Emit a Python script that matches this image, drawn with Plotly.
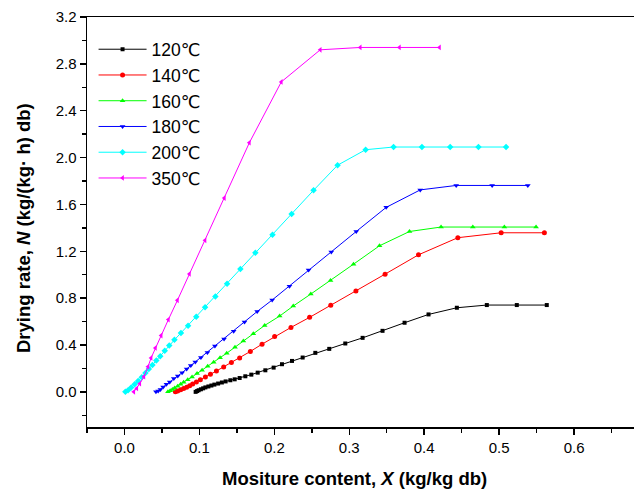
import plotly.graph_objects as go

# ---- data ----
labels = ["120℃", "140℃", "160℃", "180℃", "200℃", "350℃"]

x120 = [0.5636, 0.5236, 0.4836, 0.4436, 0.4058, 0.3738, 0.3444, 0.3178, 0.2947, 0.2733,
        0.2547, 0.2378, 0.2236, 0.2102, 0.1991, 0.1880, 0.1778, 0.1693, 0.1613, 0.1537,
        0.1471, 0.1413, 0.135, 0.130, 0.125, 0.120, 0.116, 0.112, 0.108, 0.105, 0.102,
        0.099, 0.097, 0.095]
y120 = [0.741, 0.741, 0.741, 0.718, 0.661, 0.590, 0.521, 0.461, 0.413, 0.367,
        0.333, 0.293, 0.264, 0.236, 0.207, 0.184, 0.164, 0.147, 0.133, 0.118,
        0.107, 0.099, 0.089, 0.080, 0.071, 0.062, 0.054, 0.046, 0.038, 0.030, 0.022,
        0.014, 0.007, 0.0]

x140 = [0.5604, 0.5027, 0.4449, 0.3924, 0.3478, 0.3089, 0.2753, 0.2471, 0.2222, 0.2004,
        0.1836, 0.1680, 0.1537, 0.1427, 0.1324, 0.1227, 0.1147, 0.1080, 0.1013, 0.096,
        0.091, 0.087, 0.083, 0.079, 0.075, 0.071, 0.068]
y140 = [1.358, 1.358, 1.316, 1.170, 1.005, 0.861, 0.740, 0.636, 0.550, 0.472,
        0.407, 0.345, 0.290, 0.250, 0.213, 0.178, 0.150, 0.127, 0.104, 0.085,
        0.068, 0.053, 0.040, 0.028, 0.017, 0.008, 0.0]

x160 = [0.5493, 0.5070, 0.4649, 0.4225, 0.3804, 0.3404, 0.3057, 0.2750, 0.2487, 0.2253,
        0.2071, 0.1871, 0.1720, 0.1587, 0.1475, 0.1365, 0.1276, 0.1191, 0.1111, 0.1036,
        0.0969, 0.0902, 0.0844, 0.079, 0.075, 0.071, 0.067, 0.064, 0.061, 0.058]
y160 = [1.407, 1.407, 1.407, 1.407, 1.369, 1.247, 1.090, 0.950, 0.835, 0.733,
        0.647, 0.567, 0.495, 0.435, 0.380, 0.330, 0.292, 0.253, 0.218, 0.184,
        0.156, 0.127, 0.104, 0.083, 0.064, 0.047, 0.033, 0.020, 0.010, 0.0]

x180 = [0.5383, 0.4907, 0.4427, 0.3947, 0.3493, 0.3093, 0.2760, 0.2457, 0.2202, 0.1971,
        0.1771, 0.1602, 0.1457, 0.1329, 0.1207, 0.1107, 0.1020, 0.0945, 0.0885, 0.0830,
        0.0769, 0.0711, 0.0658, 0.0604, 0.0560, 0.0516, 0.0480, 0.0450, 0.042]
y180 = [1.762, 1.762, 1.762, 1.724, 1.575, 1.369, 1.193, 1.041, 0.902, 0.784,
        0.686, 0.597, 0.518, 0.451, 0.391, 0.337, 0.294, 0.254, 0.224, 0.195,
        0.164, 0.135, 0.113, 0.084, 0.064, 0.041, 0.021, 0.007, 0.0]

x200 = [0.5093, 0.4724, 0.4347, 0.3970, 0.3591, 0.3218, 0.2844, 0.2524, 0.2231, 0.1976,
        0.1747, 0.1547, 0.1369, 0.1213, 0.1076, 0.0958, 0.0849, 0.0754, 0.0667, 0.0598,
        0.0538, 0.0478, 0.0425, 0.0373, 0.0325, 0.0280, 0.0231, 0.0182, 0.0136, 0.0090,
        0.0048, 0.0012]
y200 = [2.090, 2.090, 2.090, 2.090, 2.090, 2.067, 1.935, 1.721, 1.518, 1.341,
        1.187, 1.048, 0.922, 0.814, 0.722, 0.641, 0.564, 0.503, 0.444, 0.395,
        0.350, 0.305, 0.268, 0.229, 0.195, 0.160, 0.125, 0.092, 0.064, 0.037,
        0.014, 0.0]

x350 = [0.4204, 0.3670, 0.3147, 0.2613, 0.2093, 0.1667, 0.1333, 0.1076, 0.0867, 0.0707,
        0.0586, 0.0490, 0.0413, 0.0356, 0.0314, 0.0260, 0.0205, 0.0165, 0.0125]
y350 = [2.940, 2.940, 2.940, 2.920, 2.646, 2.127, 1.655, 1.294, 1.007, 0.782,
        0.617, 0.481, 0.375, 0.290, 0.215, 0.130, 0.070, 0.030, 0.0]

xs = [x120, x140, x160, x180, x200, x350]
ys = [y120, y140, y160, y180, y200, y350]
colors = ["#000000", "#FF0000", "#00FF00", "#0000FF", "#00FFFF", "#FF00FF"]
symbols = ["square", "circle", "triangle-up", "triangle-down", "diamond", "triangle-left"]
msizes = [4, 5, 5, 5, 5, 5]

FONT = "Arial, Liberation Sans, DejaVu Sans, sans-serif"

fig = go.Figure()
for lab, xv, yv, c, s, ms in zip(labels, xs, ys, colors, symbols, msizes):
    fig.add_trace(go.Scatter(
        x=xv, y=yv, name=lab, mode="lines+markers",
        line=dict(color=c, width=1),
        marker=dict(color=c, symbol=s, size=ms, line=dict(width=0)),
    ))

W, H = 634, 493
L, R, T, B = 87, 0, 17, 66

fig.update_layout(
    width=W, height=H,
    margin=dict(l=L, r=R, t=T, b=B, pad=0),
    paper_bgcolor="white", plot_bgcolor="white",
    font=dict(family=FONT, color="black", size=15),
    showlegend=True,
    legend=dict(
        x=0.012, y=0.965, xanchor="left", yanchor="top",
        bgcolor="rgba(0,0,0,0)", borderwidth=0,
        font=dict(family=FONT, size=17.5, color="black"),
        itemwidth=48, tracegroupgap=0,
    ),
    xaxis=dict(
        range=[-0.05, 0.68], showgrid=False, zeroline=False,
        showline=True, linecolor="black", linewidth=1.5, mirror=True,
        ticks="outside", ticklen=6, tickwidth=1.5, tickcolor="black",
        tick0=0, dtick=0.1, tickformat=".1f",
        tickfont=dict(family=FONT, size=15, color="black"),
        minor=dict(ticks="outside", ticklen=4, tickwidth=1.5, tickcolor="black", dtick=0.05, tick0=0),
    ),
    yaxis=dict(
        range=[-0.3, 3.2], showgrid=False, zeroline=False,
        showline=True, linecolor="black", linewidth=1.5, mirror=False,
        ticks="outside", ticklen=6, tickwidth=1.5, tickcolor="black",
        tick0=0, dtick=0.4, tickformat=".1f",
        tickfont=dict(family=FONT, size=15, color="black"),
        minor=dict(ticks="outside", ticklen=4, tickwidth=1.5, tickcolor="black", dtick=0.2, tick0=0),
    ),
)

pw = W - L - R
ph = H - T - B
fig.add_annotation(
    text="<b>Mositure content, <i>X</i> (kg/kg db)</b>",
    xref="paper", yref="paper",
    x=(354 - L) / pw, y=-(478 - (T + ph)) / ph,
    xanchor="center", yanchor="middle", showarrow=False,
    font=dict(family=FONT, size=18.5, color="black"),
)
fig.add_annotation(
    text="<b>Drying rate, <i>N</i> (kg/(kg· h) db)</b>",
    xref="paper", yref="paper",
    x=-(L - 23) / pw, y=(T + ph - 228) / ph,
    xanchor="center", yanchor="middle", showarrow=False, textangle=-90,
    font=dict(family=FONT, size=18.5, color="black"),
)

fig.write_html(
    "out.html",
    config={"displayModeBar": False, "staticPlot": True},
    post_script="document.body.style.margin='0';document.body.style.padding='0';",
)
